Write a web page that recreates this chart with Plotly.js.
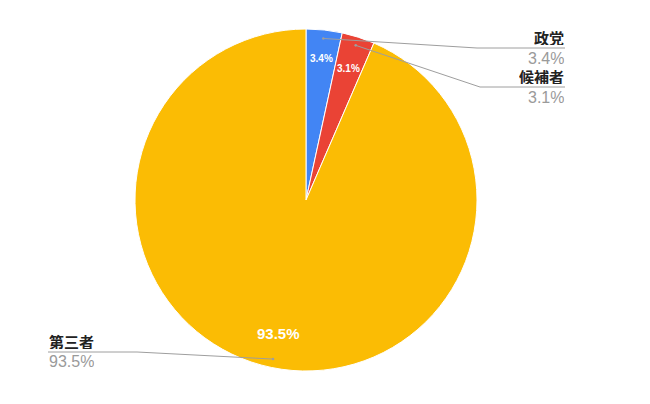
<!DOCTYPE html>
<html>
<head>
<meta charset="utf-8">
<script src="https://cdn.plot.ly/plotly-3.0.1.min.js"></script>
<style>
  html, body { margin: 0; padding: 0; background: #fff; }
  #chart { width: 650px; height: 404px; }
</style>
</head>
<body>
<div id="chart"></div>
<script>
const labels = ["政党", "候補者", "第三者"];
const values = [3.4, 3.1, 93.5];
const pctText = ["3.4%", "3.1%", "93.5%"];
const colors = ["#4285F4", "#EA4335", "#FBBC04"];

// geometry of the pie in pixels
const W = 650, H = 404;
const cx = 306, cy = 200, R = 171;
const FONT = "'Liberation Sans', Arial, 'Noto Sans CJK JP', sans-serif";

// outside label placement
const outside = [
  {x: 565, y: 38, elbowX: 477, lineY: 48, side: "right"},
  {x: 565, y: 77, elbowX: 480, lineY: 87, side: "right"},
  {x: 48, y: 341, elbowX: 137, lineY: 352, side: "left"}
];

const px = x => x / W;
const py = y => 1 - y / H;

const total = values.reduce((s, v) => s + v, 0);
function midPoint(i, frac) {
  let before = 0;
  for (let k = 0; k < i; k++) before += values[k];
  const ang = (before + values[i] / 2) / total * 2 * Math.PI;
  return [cx + Math.sin(ang) * R * frac, cy - Math.cos(ang) * R * frac];
}

const trace = {
  type: "pie",
  labels: labels,
  values: values,
  sort: false,
  direction: "clockwise",
  rotation: 0,
  textinfo: "none",
  hoverinfo: "label+percent",
  marker: {colors: colors, line: {color: "#ffffff", width: 1}},
  domain: {x: [px(cx - R), px(cx + R)], y: [py(cy + R), py(cy - R)]},
  showlegend: false
};

const annotations = [];
const shapes = [];
const insideFrac = [0.835, 0.81, 0.8];
const insideSize = [10, 10, 15];

labels.forEach((lab, i) => {
  const o = outside[i];
  const anchor = o.side === "right" ? "right" : "left";
  annotations.push({
    xref: "paper", yref: "paper", x: px(o.x), y: py(o.y),
    xanchor: anchor, yanchor: "middle", showarrow: false,
    height: 15, borderpad: 0,
    text: "<b>" + lab + "</b>",
    font: {family: "'Noto Sans CJK JP', sans-serif", size: 15, color: "#222222"}
  });
  annotations.push({
    xref: "paper", yref: "paper", x: px(o.x), y: py(o.y + 20),
    xanchor: anchor, yanchor: "middle", showarrow: false,
    height: 15, borderpad: 0,
    text: pctText[i],
    font: {family: FONT, size: 16, color: "#9a9a9a"}
  });
  const [ax, ay] = midPoint(i, 0.95);
  shapes.push({
    type: "path", xref: "paper", yref: "paper",
    path: "M" + px(ax) + "," + py(ay) + " L" + px(o.elbowX) + "," + py(o.lineY) +
          " L" + px(o.x) + "," + py(o.lineY),
    line: {color: "#9e9e9e", width: 1}
  });
  shapes.push({
    type: "circle", xref: "paper", yref: "paper",
    x0: px(ax - 1.3), x1: px(ax + 1.3), y0: py(ay + 1.3), y1: py(ay - 1.3),
    fillcolor: "#9e9e9e", line: {width: 0}
  });
  const [tx, ty] = midPoint(i, insideFrac[i]);
  annotations.push({
    xref: "paper", yref: "paper", x: px(tx), y: py(ty),
    xanchor: "center", yanchor: "middle", showarrow: false,
    text: "<b>" + pctText[i] + "</b>",
    font: {family: FONT, size: insideSize[i], color: "#ffffff"}
  });
});

const layout = {
  width: W, height: H,
  margin: {l: 0, r: 0, t: 0, b: 0},
  paper_bgcolor: "#ffffff",
  annotations: annotations,
  shapes: shapes,
  font: {family: FONT}
};

Plotly.newPlot("chart", [trace], layout, {displayModeBar: false, staticPlot: true});
</script>
</body>
</html>
